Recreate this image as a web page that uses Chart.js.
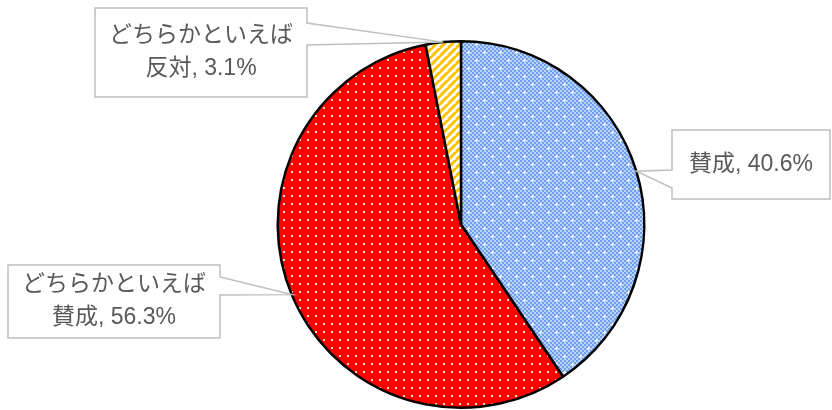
<!DOCTYPE html>
<html>
<head>
<meta charset="utf-8">
<script src="https://cdn.jsdelivr.net/npm/chart.js@4/dist/chart.umd.min.js"></script>
<style>
  html, body { margin: 0; padding: 0; background: #fff; }
  #wrap { width: 832px; height: 410px; }
</style>
</head>
<body>
<div id="wrap"><canvas id="pie" width="832" height="410"></canvas></div>
<script>
// データ
const labels = ['賛成', 'どちらかといえば賛成', 'どちらかといえば反対'];
const values = [40.6, 56.3, 3.1];
// ラベルの表示行
const labelLines = [
  ['賛成, 40.6%'],
  ['どちらかといえば', '賛成, 56.3%'],
  ['どちらかといえば', '反対, 3.1%']
];
// 吹き出しの位置 (箱の左上・右下と、ポインタを付ける辺)
const boxes = [
  { x1: 672, y1: 130, x2: 830, y2: 199, side: 'left', p1: 170, p2: 188 },
  { x1: 8, y1: 265, x2: 220, y2: 338, side: 'right', p1: 277, p2: 295 },
  { x1: 95, y1: 8, x2: 307, y2: 97, side: 'right', p1: 23, p2: 45 }
];

// 模様を作る
function tile(w, h, draw) {
  const c = document.createElement('canvas');
  c.width = w; c.height = h;
  const g = c.getContext('2d');
  draw(g);
  return g.createPattern(c, 'repeat');
}

const bluePattern = tile(16, 16, g => {
  g.fillStyle = '#bcd3f9';
  g.fillRect(0, 0, 16, 16);
  g.fillStyle = '#6f9ff0';
  for (let y = 0; y < 16; y += 2) {
    for (let x = 0; x < 16; x += 2) {
      if (((x + y) / 2) % 2 === 0) g.fillRect(x, y, 2, 2);
    }
  }
  g.fillStyle = '#ffffff';
  [[4, 4], [12, 12]].forEach(([x, y]) => {
    g.fillRect(x - 1, y, 3, 1);
    g.fillRect(x, y - 1, 1, 3);
  });
});

const redPattern = tile(8, 8, g => {
  g.fillStyle = '#ff0000';
  g.fillRect(0, 0, 8, 8);
  g.fillStyle = '#ffd6d6';
  g.fillRect(3, 3, 2, 2);
});

const yellowPattern = tile(8, 8, g => {
  g.fillStyle = '#ffffff';
  g.fillRect(0, 0, 8, 8);
  g.strokeStyle = '#ffc000';
  g.lineWidth = 3;
  for (let k = -8; k <= 16; k += 8) {
    g.beginPath();
    g.moveTo(k - 8, 8);
    g.lineTo(k + 8, -8);
    g.stroke();
  }
});

// 吹き出しラベル
const calloutPlugin = {
  id: 'callouts',
  afterDatasetsDraw(chart) {
    const ctx = chart.ctx;
    const arcs = chart.getDatasetMeta(0).data;
    ctx.save();
    arcs.forEach((arc, i) => {
      const b = boxes[i];
      const mid = (arc.startAngle + arc.endAngle) / 2;
      const tx = arc.x + Math.cos(mid) * arc.outerRadius;
      const ty = arc.y + Math.sin(mid) * arc.outerRadius;

      ctx.beginPath();
      if (b.side === 'right') {
        ctx.moveTo(b.x1, b.y1);
        ctx.lineTo(b.x2, b.y1);
        ctx.lineTo(b.x2, b.p1);
        ctx.lineTo(tx, ty);
        ctx.lineTo(b.x2, b.p2);
        ctx.lineTo(b.x2, b.y2);
        ctx.lineTo(b.x1, b.y2);
      } else {
        ctx.moveTo(b.x2, b.y1);
        ctx.lineTo(b.x1, b.y1);
        ctx.lineTo(b.x1, b.p1);
        ctx.lineTo(tx, ty);
        ctx.lineTo(b.x1, b.p2);
        ctx.lineTo(b.x1, b.y2);
        ctx.lineTo(b.x2, b.y2);
      }
      ctx.closePath();
      ctx.fillStyle = '#ffffff';
      ctx.fill();
      ctx.strokeStyle = '#bfbfbf';
      ctx.lineWidth = 1.5;
      ctx.stroke();

      const lines = labelLines[i];
      ctx.fillStyle = '#595959';
      ctx.font = '23px "Liberation Sans", "Noto Sans CJK JP"';
      ctx.textAlign = 'center';
      ctx.textBaseline = 'middle';
      const cx = (b.x1 + b.x2) / 2;
      const cy = (b.y1 + b.y2) / 2;
      const lh = 33;
      lines.forEach((t, k) => {
        ctx.fillText(t, cx, cy + (k - (lines.length - 1) / 2) * lh);
      });
    });
    ctx.restore();
  }
};

new Chart(document.getElementById('pie'), {
  type: 'pie',
  data: {
    labels: labels,
    datasets: [{
      data: values,
      backgroundColor: [bluePattern, redPattern, yellowPattern],
      borderColor: '#000000',
      borderWidth: 2.5
    }]
  },
  options: {
    responsive: false,
    animation: false,
    layout: { padding: { top: 40, bottom: 1, left: 90, right: 0 } },
    plugins: {
      legend: { display: false },
      tooltip: { enabled: false }
    }
  },
  plugins: [calloutPlugin]
});
</script>
</body>
</html>
